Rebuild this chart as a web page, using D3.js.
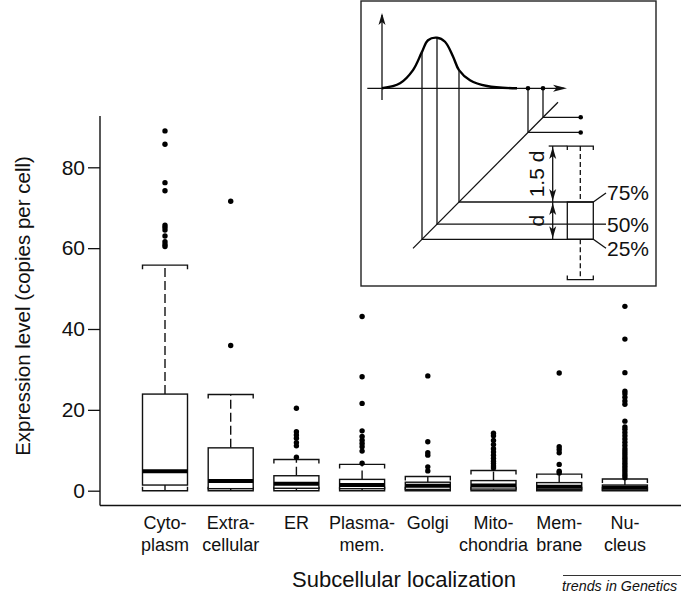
<!DOCTYPE html>
<html><head><meta charset="utf-8">
<script src="https://cdn.jsdelivr.net/npm/d3@7"></script>
<style>body{margin:0;background:#fff} svg{display:block}</style>
</head><body>
<svg id="chart" width="681" height="594"></svg>
<script>
// ---------- data ----------
const categories = ["Cytoplasm","Extracellular","ER","Plasma-mem.","Golgi","Mitochondria","Membrane","Nucleus"];
const labelLine1 = ["Cyto-","Extra-","ER","Plasma-","Golgi","Mito-","Mem-","Nu-"];
const labelLine2 = ["plasm","cellular","","mem.","","chondria","brane","cleus"];
const whiskerLow  = [0, 0, 0, 0, 0, 0, 0, 0];
const q1          = [1.4, 0.5, 0.6, 0.5, 0.3, 0.4, 0.3, 0.1];
const medians     = [4.8, 2.4, 1.7, 1.4, 1.2, 1.3, 1.0, 0.7];
const q3          = [23.9, 10.6, 3.7, 2.8, 2.1, 2.5, 2.0, 1.4];
const whiskerHigh = [55.8, 23.8, 7.7, 6.5, 3.5, 5.0, 4.1, 2.9];
const outliers = [
  [89.0, 85.7, 76.2, 74.2, 65.7, 65.2, 64.5, 63.0, 61.6, 60.9, 60.4],
  [71.6, 35.9],
  [20.4, 14.6, 13.8, 13.0, 11.9, 11.1, 8.3],
  [43.1, 28.2, 21.6, 14.8, 13.4, 12.5, 11.7, 10.9, 9.8, 6.8],
  [28.4, 12.1, 9.4, 8.8, 5.9, 4.9],
  [14.2, 13.6, 12.4, 11.4, 10.4, 9.6, 8.8, 8.0, 7.3, 6.7, 6.1, 5.6],
  [29.1, 10.9, 10.2, 9.4, 6.5, 4.8, 4.4],
  [45.6, 37.5, 29.2, 24.6, 24.0, 23.1, 22.2, 21.4, 17.2, 15.8, 15.2, 14.4, 13.6, 12.8, 12.0,
   11.2, 10.4, 9.8, 9.2, 8.6, 8.0, 7.4, 6.8, 6.2, 5.6, 5.0, 4.4, 3.8, 3.2]
];
const yTicks = [0, 20, 40, 60, 80];
const yTitle = "Expression level (copies per cell)";
const xTitle = "Subcellular localization";
const credit = "trends in Genetics";

// inset schematic values
const insetDensityX = [0, 1.8, 3.1, 4.0, 4.6, 5.5, 6.3, 7.1, 7.7, 8.8, 10.5, 13.5];
const insetDensityY = [0, 0.10, 0.36, 0.72, 0.95, 1.0, 0.92, 0.63, 0.36, 0.16, 0.045, 0];
const insetQuartiles = [4.0, 5.5, 7.7];
const insetWhiskers = [0, 13.25];
const insetOutliers = [14.6, 16.1];
const insetDiagonal = [3.1, 17.6];
const insetLabels = ["25%", "50%", "75%"];
const insetDimLabels = ["d", "1.5 d"];

// ---------- main chart ----------
const FONT = "'Liberation Sans', Arial, Helvetica, sans-serif";
const svg = d3.select("#chart").style("font-family", FONT);

const y = d3.scaleLinear().domain([0, 80]).range([490.7, 167.3]);
const x = d3.scaleBand().domain(categories).range([132.15, 657.75]).padding(0);
const boxW = 45;
const cx = c => x(c) + x.bandwidth() / 2;

const g = svg.append("g");

g.append("line").attr("x1", 100).attr("x2", 100).attr("y1", 116).attr("y2", 505.5)
  .attr("stroke", "#111").attr("stroke-width", 1.4);
g.append("line").attr("x1", 100).attr("x2", 681).attr("y1", 505.5).attr("y2", 505.5)
  .attr("stroke", "#111").attr("stroke-width", 1.4);

const yAxis = g.append("g").attr("transform", "translate(100,0)")
  .call(d3.axisLeft(y).tickValues(yTicks).tickSize(12).tickPadding(3).tickFormat(d3.format("d")));
yAxis.select(".domain").remove();
yAxis.selectAll(".tick line").attr("stroke", "#111").attr("stroke-width", 1.3);
yAxis.selectAll(".tick text").attr("font-size", 21).attr("font-family", FONT).attr("fill", "#111");

g.append("text").attr("transform", "translate(30,306) rotate(-90)")
  .attr("text-anchor", "middle").attr("font-size", 20.5).attr("fill", "#111").text(yTitle);

categories.forEach((c, i) => {
  g.append("text").attr("x", cx(c)).attr("y", 529).attr("text-anchor", "middle")
    .attr("font-size", 18).attr("fill", "#111").text(labelLine1[i]);
  if (labelLine2[i]) g.append("text").attr("x", cx(c)).attr("y", 551).attr("text-anchor", "middle")
    .attr("font-size", 18).attr("fill", "#111").text(labelLine2[i]);
});
g.append("text").attr("x", 404).attr("y", 587).attr("text-anchor", "middle")
  .attr("font-size", 22).attr("fill", "#111").text(xTitle);
g.append("line").attr("x1", 563).attr("x2", 681).attr("y1", 575.5).attr("y2", 575.5)
  .attr("stroke", "#333").attr("stroke-width", 1);
g.append("text").attr("x", 562).attr("y", 591).attr("font-size", 14.3).attr("font-style", "italic")
  .attr("fill", "#111").text(credit);

const stroke = "#111", sw = 1.4;
categories.forEach((c, i) => {
  const xc = cx(c), x0 = xc - boxW / 2, x1 = xc + boxW / 2;
  const bg = g.append("g");
  bg.append("line").attr("x1", xc).attr("x2", xc).attr("y1", y(q3[i])).attr("y2", y(whiskerHigh[i]))
    .attr("stroke", stroke).attr("stroke-width", sw).attr("stroke-dasharray", "9,4");
  bg.append("line").attr("x1", xc).attr("x2", xc).attr("y1", y(q1[i])).attr("y2", y(whiskerLow[i]))
    .attr("stroke", stroke).attr("stroke-width", sw).attr("stroke-dasharray", "9,4");
  const capT = y(whiskerHigh[i]), capB = y(whiskerLow[i]);
  bg.append("path").attr("d", `M${x0},${capT + 4}V${capT}H${x1}V${capT + 4}`)
    .attr("fill", "none").attr("stroke", stroke).attr("stroke-width", sw);
  bg.append("path").attr("d", `M${x0},${capB - 4}V${capB}H${x1}V${capB - 4}`)
    .attr("fill", "none").attr("stroke", stroke).attr("stroke-width", sw);
  bg.append("rect").attr("x", x0).attr("y", y(q3[i])).attr("width", boxW)
    .attr("height", y(q1[i]) - y(q3[i])).attr("fill", "#fff")
    .attr("stroke", stroke).attr("stroke-width", sw);
  bg.append("line").attr("x1", x0).attr("x2", x1).attr("y1", y(medians[i])).attr("y2", y(medians[i]))
    .attr("stroke", "#000").attr("stroke-width", 4);
  bg.selectAll("circle").data(outliers[i]).join("circle")
    .attr("cx", xc).attr("cy", d => y(d)).attr("r", 2.7).attr("fill", "#000");
});

// ---------- inset schematic ----------
const ins = svg.append("g");
ins.append("rect").attr("x", 361).attr("y", 1).attr("width", 295).attr("height", 285)
  .attr("fill", "#fff").attr("stroke", "#222").attr("stroke-width", 1.4);

const ux = d3.scaleLinear().domain([0, 10]).range([382, 482]);
const uy = d3.scaleLinear().domain([0, 1]).range([88.3, 37.7]);
const uv = d3.scaleLinear().domain([0, 10]).range([279.6, 178.8]);
const dens = d3.scaleLinear().domain(insetDensityX).range(insetDensityY);
const boxL = 567.3, boxR = 593.3, boxC = 580.3, dotX = 580.7, dimX = 552.7, labX = 607;
const ls = "#111", lw = 1.3;

function arrowHead(xTip, yTip, dir, len, half) {
  let p;
  if (dir === "up") p = `M${xTip},${yTip}L${xTip - half},${yTip + len}L${xTip},${yTip + len * 0.75}L${xTip + half},${yTip + len}Z`;
  else if (dir === "down") p = `M${xTip},${yTip}L${xTip - half},${yTip - len}L${xTip},${yTip - len * 0.75}L${xTip + half},${yTip - len}Z`;
  else p = `M${xTip},${yTip}L${xTip - len},${yTip - half}L${xTip - len * 0.75},${yTip}L${xTip - len},${yTip + half}Z`;
  ins.append("path").attr("d", p).attr("fill", "#111");
}

ins.append("line").attr("x1", ux(0)).attr("x2", ux(0)).attr("y1", 100).attr("y2", 15)
  .attr("stroke", ls).attr("stroke-width", lw);
arrowHead(ux(0), 13, "up", 12, 3.5);
ins.append("line").attr("x1", 367.3).attr("x2", 564).attr("y1", uy(0)).attr("y2", uy(0))
  .attr("stroke", ls).attr("stroke-width", lw);
arrowHead(567, uy(0), "right", 14, 3.5);

const pts = insetDensityX.map((v, i) => [ux(v), uy(insetDensityY[i])]);
ins.append("path").attr("d", d3.line().curve(d3.curveCatmullRom.alpha(0.5))(pts))
  .attr("fill", "none").attr("stroke", "#000").attr("stroke-width", 2.4);

ins.append("line").attr("x1", ux(insetDiagonal[0])).attr("y1", uv(insetDiagonal[0]))
  .attr("x2", ux(insetDiagonal[1])).attr("y2", uv(insetDiagonal[1]))
  .attr("stroke", ls).attr("stroke-width", lw);

insetQuartiles.forEach(v => {
  ins.append("line").attr("x1", ux(v)).attr("x2", ux(v)).attr("y1", uy(dens(v))).attr("y2", uv(v))
    .attr("stroke", ls).attr("stroke-width", lw);
  ins.append("line").attr("x1", ux(v)).attr("x2", boxR).attr("y1", uv(v)).attr("y2", uv(v))
    .attr("stroke", ls).attr("stroke-width", lw);
});
ins.append("rect").attr("x", boxL).attr("y", uv(insetQuartiles[2])).attr("width", boxR - boxL)
  .attr("height", uv(insetQuartiles[0]) - uv(insetQuartiles[2]))
  .attr("fill", "none").attr("stroke", ls).attr("stroke-width", lw);
ins.append("line").attr("x1", boxC).attr("x2", boxC).attr("y1", uv(insetWhiskers[1])).attr("y2", uv(insetQuartiles[2]))
  .attr("stroke", ls).attr("stroke-width", lw).attr("stroke-dasharray", "5,3");
ins.append("line").attr("x1", boxC).attr("x2", boxC).attr("y1", uv(insetQuartiles[0])).attr("y2", uv(insetWhiskers[0]))
  .attr("stroke", ls).attr("stroke-width", lw).attr("stroke-dasharray", "5,3");
const cT = uv(insetWhiskers[1]), cB = uv(insetWhiskers[0]);
ins.append("path").attr("d", `M${boxL},${cT + 4}V${cT}H${boxR}V${cT + 4}`).attr("fill", "none").attr("stroke", ls).attr("stroke-width", lw);
ins.append("line").attr("x1", dimX - 4).attr("x2", boxL).attr("y1", cT).attr("y2", cT).attr("stroke", ls).attr("stroke-width", lw);
ins.append("path").attr("d", `M${boxL},${cB - 4}V${cB}H${boxR}V${cB - 4}`).attr("fill", "none").attr("stroke", ls).attr("stroke-width", lw);

insetOutliers.forEach(v => {
  ins.append("line").attr("x1", ux(v)).attr("x2", ux(v)).attr("y1", uy(0)).attr("y2", uv(v))
    .attr("stroke", ls).attr("stroke-width", lw);
  ins.append("line").attr("x1", ux(v)).attr("x2", dotX).attr("y1", uv(v)).attr("y2", uv(v))
    .attr("stroke", ls).attr("stroke-width", lw);
  ins.append("circle").attr("cx", ux(v)).attr("cy", uy(0)).attr("r", 2.3).attr("fill", "#000");
  ins.append("circle").attr("cx", dotX).attr("cy", uv(v)).attr("r", 2.3).attr("fill", "#000");
});

const yQ1 = uv(insetQuartiles[0]), yQ3 = uv(insetQuartiles[2]);
ins.append("line").attr("x1", dimX).attr("x2", dimX).attr("y1", cT).attr("y2", yQ1)
  .attr("stroke", ls).attr("stroke-width", lw);
arrowHead(dimX, cT + 1, "up", 12, 3.5);
arrowHead(dimX, yQ3 - 1, "down", 12, 3.5);
arrowHead(dimX, yQ3 + 1, "up", 12, 3.5);
arrowHead(dimX, yQ1 - 1, "down", 12, 3.5);
ins.append("text").attr("transform", `translate(${dimX - 9},${(yQ1 + yQ3) / 2}) rotate(-90)`)
  .attr("text-anchor", "middle").attr("font-size", 21).attr("fill", "#111").text(insetDimLabels[0]);
ins.append("text").attr("transform", `translate(${dimX - 9},${(cT + yQ3) / 2}) rotate(-90)`)
  .attr("text-anchor", "middle").attr("font-size", 21).attr("fill", "#111").text(insetDimLabels[1]);

const labY = [yQ1 + 9, uv(insetQuartiles[1]), yQ3 - 9];
insetQuartiles.forEach((v, i) => {
  ins.append("line").attr("x1", boxR).attr("y1", uv(v)).attr("x2", labX - 1).attr("y2", labY[i])
    .attr("stroke", ls).attr("stroke-width", lw);
  ins.append("text").attr("x", labX).attr("y", labY[i] + 7.5).attr("font-size", 21)
    .attr("fill", "#111").text(insetLabels[i]);
});
</script>
</body></html>
